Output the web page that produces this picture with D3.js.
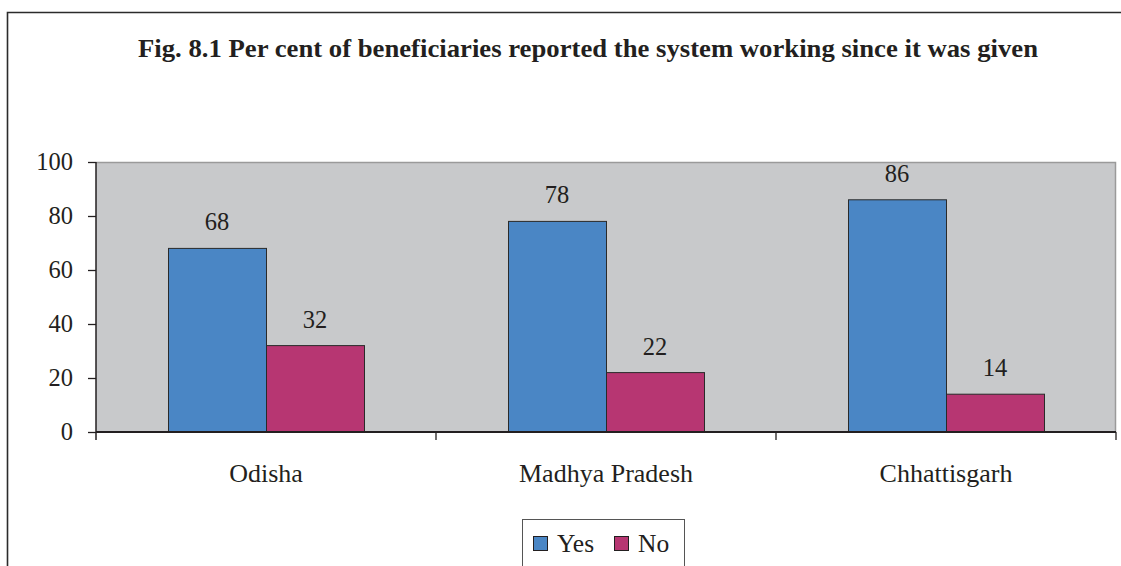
<!DOCTYPE html>
<html>
<head>
<meta charset="utf-8">
<script src="https://cdn.jsdelivr.net/npm/d3@7/dist/d3.min.js"></script>
<style>
  html, body { margin: 0; padding: 0; background: #fff; }
  svg { display: block; }
  svg text { font-family: "Times New Roman", "Liberation Serif", Tinos, "Nimbus Roman", "DejaVu Serif", serif !important; fill: #231f20; }
</style>
</head>
<body>
<svg id="chart" width="1121" height="566"></svg>
<script>
const titleText = "Fig. 8.1 Per cent of beneficiaries reported the system working since it was given";
const categories = ["Odisha", "Madhya Pradesh", "Chhattisgarh"];
const seriesNames = ["Yes", "No"];
const yesValues = [68, 78, 86];
const noValues = [32, 22, 14];
const yTicks = [0, 20, 40, 60, 80, 100];
const seriesColors = ["#4a86c5", "#b73672"];

const serif = '"Times New Roman", "Liberation Serif", Tinos, "DejaVu Serif", serif';
const svg = d3.select("#chart").style("font-family", serif);
const W = 1121, H = 566;
const plot = { left: 96, top: 162, right: 1116, bottom: 432 };

// outer frame (runs off the right and bottom edges)
svg.append("path")
  .attr("d", `M7.5,${H + 5} V12.5 H${W + 5}`)
  .attr("fill", "none").attr("stroke", "#2b2b2b").attr("stroke-width", 1.6);

// title
svg.append("text")
  .attr("x", 588).attr("y", 57)
  .attr("text-anchor", "middle")
  .attr("font-size", 24.5).attr("font-weight", "bold")
  .attr("textLength", 900).attr("lengthAdjust", "spacingAndGlyphs")
  .style("font-family", serif)
  .text(titleText);

const x0 = d3.scaleBand().domain(categories).range([plot.left, plot.right]).paddingInner(0).paddingOuter(0);
const barW = 98;
const x1 = d3.scaleBand().domain(seriesNames).range([0, barW * 2]).padding(0);
const y = d3.scaleLinear().domain([0, 100]).range([plot.bottom, plot.top]);

// plot background
svg.append("rect")
  .attr("x", plot.left).attr("y", plot.top)
  .attr("width", plot.right - plot.left).attr("height", plot.bottom - plot.top)
  .attr("fill", "#c8c9cb");
svg.append("path")
  .attr("d", `M${plot.left},${plot.top + 0.5} H${plot.right - 0.5} V${plot.bottom}`)
  .attr("fill", "none").attr("stroke", "#9a9a9a").attr("stroke-width", 1.5);

const rows = categories.map((c, i) => ({ cat: c, values: [yesValues[i], noValues[i]] }));

const groups = svg.append("g").selectAll("g").data(rows).join("g")
  .attr("transform", d => `translate(${x0(d.cat) + (x0.bandwidth() - barW * 2) / 2},0)`);

groups.selectAll("rect").data(d => d.values.map((v, j) => ({ key: seriesNames[j], v, j })))
  .join("rect")
  .attr("x", d => x1(d.key) + 0.5)
  .attr("y", d => y(d.v))
  .attr("width", x1.bandwidth())
  .attr("height", d => y(0) - y(d.v))
  .attr("fill", d => seriesColors[d.j])
  .attr("stroke", "#2a2a2a").attr("stroke-width", 1);

groups.selectAll("text.val").data(d => d.values.map((v, j) => ({ key: seriesNames[j], v, j })))
  .join("text")
  .attr("class", "val")
  .attr("x", d => x1(d.key) + x1.bandwidth() / 2)
  .attr("y", d => y(d.v) - 18)
  .attr("text-anchor", "middle")
  .attr("font-size", 24.5)
  .style("font-family", serif)
  .text(d => d.v);

// y axis
const yAxis = d3.axisLeft(y).tickValues(yTicks).tickSize(8).tickPadding(15);
const yg = svg.append("g").attr("transform", `translate(${plot.left},0)`).call(yAxis)
  .attr("font-family", null);
yg.select(".domain").attr("stroke", "#231f20").attr("stroke-width", 1.5)
  .attr("d", `M0,${plot.top} V${plot.bottom + 8}`);
yg.selectAll(".tick line").attr("stroke", "#231f20").attr("stroke-width", 1.3);
yg.selectAll(".tick text").attr("font-size", 24.5).style("font-family", serif).attr("fill", "#231f20");

// x axis: category dividers as ticks, labels centered in bands
const xg = svg.append("g").attr("transform", `translate(0,${plot.bottom})`);
xg.append("line").attr("x1", plot.left).attr("x2", plot.right).attr("y1", 0).attr("y2", 0)
  .attr("stroke", "#231f20").attr("stroke-width", 1.8);
const dividers = categories.map(c => x0(c) + x0.bandwidth());
xg.selectAll("line.div").data(dividers).join("line")
  .attr("class", "div")
  .attr("x1", d => d).attr("x2", d => d).attr("y1", 0).attr("y2", 8)
  .attr("stroke", "#231f20").attr("stroke-width", 1.3);
xg.selectAll("text").data(categories).join("text")
  .attr("x", d => x0(d) + x0.bandwidth() / 2)
  .attr("y", 50)
  .attr("text-anchor", "middle")
  .attr("font-size", 26)
  .style("font-family", serif)
  .text(d => d);

// legend
const lg = svg.append("g");
lg.append("rect").attr("x", 522.5).attr("y", 519.5).attr("width", 162).attr("height", 60)
  .attr("fill", "#fff").attr("stroke", "#555").attr("stroke-width", 1);
const items = [{ name: "Yes", sx: 533, tx: 557 }, { name: "No", sx: 614, tx: 638 }];
items.forEach((it, i) => {
  lg.append("rect").attr("x", it.sx + 0.5).attr("y", 536.5).attr("width", 14).attr("height", 14)
    .attr("fill", seriesColors[i]).attr("stroke", "#231f20").attr("stroke-width", 1);
  lg.append("text").attr("x", it.tx).attr("y", 552).attr("font-size", 25.5)
    .style("font-family", serif).text(it.name);
});
</script>
</body>
</html>
